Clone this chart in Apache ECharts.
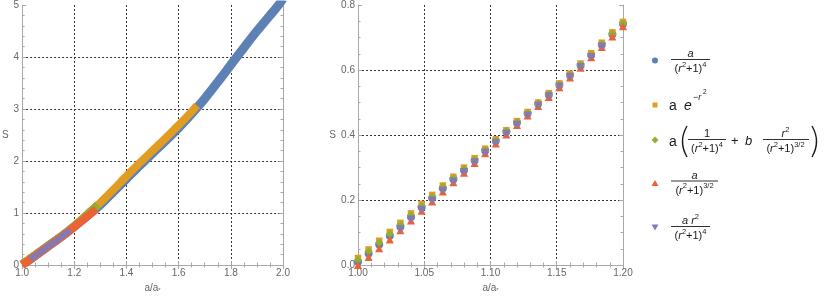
<!DOCTYPE html>
<html><head><meta charset="utf-8">
<script src="https://cdn.jsdelivr.net/npm/echarts@6/dist/echarts.min.js"></script>
<style>html,body{margin:0;padding:0;background:#fff}#c{width:830px;height:298px}</style>
</head><body><div id="c"></div>
<script>
// ---- data ----
const xZoom = [1.000,1.008,1.016,1.024,1.032,1.040,1.048,1.056,1.064,1.072,1.080,1.088,1.096,1.104,1.112,1.120,1.128,1.136,1.144,1.152,1.160,1.168,1.176,1.184,1.192,1.200];
const blueS   = [0.010,0.036,0.063,0.090,0.118,0.148,0.178,0.206,0.236,0.264,0.292,0.322,0.352,0.382,0.410,0.438,0.466,0.496,0.524,0.554,0.584,0.614,0.646,0.678,0.710,0.742];
const orangeS = [0.022,0.048,0.075,0.102,0.130,0.159,0.188,0.216,0.245,0.272,0.300,0.329,0.358,0.387,0.415,0.443,0.471,0.500,0.529,0.559,0.589,0.620,0.652,0.684,0.716,0.748];
const greenS  = [0.016,0.042,0.069,0.096,0.124,0.153,0.182,0.210,0.240,0.268,0.296,0.325,0.355,0.384,0.412,0.440,0.468,0.498,0.526,0.556,0.586,0.617,0.648,0.680,0.712,0.744];
const redS    = [0.000,0.025,0.052,0.079,0.107,0.137,0.167,0.196,0.226,0.255,0.284,0.314,0.344,0.374,0.402,0.431,0.460,0.489,0.517,0.547,0.577,0.607,0.639,0.671,0.703,0.735];
const purpleX = [1.032,1.040,1.048,1.056,1.064,1.072,1.080,1.088,1.096,1.104,1.112,1.120,1.128,1.136,1.144,1.152,1.160,1.168,1.176,1.184];
const purpleS = [0.110,0.140,0.170,0.199,0.229,0.257,0.286,0.316,0.346,0.376,0.404,0.432,0.460,0.490,0.519,0.549,0.579,0.609,0.640,0.672];
const blueWideX   = [1.25,1.30,1.35,1.40,1.45,1.50,1.55,1.60,1.65,1.70,1.75,1.80,1.85,1.90,1.95,1.98,2.00];
const blueWideS   = [0.95,1.16,1.41,1.66,1.91,2.15,2.39,2.64,2.91,3.20,3.52,3.85,4.18,4.50,4.80,4.98,5.12];
const orangeWideX = [1.25,1.30,1.35,1.40,1.45,1.50,1.55,1.60,1.65,1.67];
const orangeWideS = [0.98,1.20,1.45,1.71,1.96,2.20,2.44,2.69,2.95,3.07];
const greenWideX  = [1.25,1.29];
const greenWideS  = [0.97,1.16];
const redWideX    = [1.24,1.284];
const redWideS    = [0.895,1.075];
// tick labels
const leftXLabels  = ['1.0','1.2','1.4','1.6','1.8','2.0'];
const leftYLabels  = ['0','1','2','3','4','5'];
const rightXLabels = ['1.00','1.05','1.10','1.15','1.20'];
const rightYLabels = ['0.0','0.2','0.4','0.6','0.8'];
const names = ['s1','s2','s3','s4','s5'];

// ---- build ----
const pair = (xs, ys) => xs.map((x, i) => [x, ys[i]]);
const blueD   = pair(xZoom, blueS).concat(pair(blueWideX, blueWideS));
const orangeD = pair(xZoom, orangeS).concat(pair(orangeWideX, orangeWideS));
const greenD  = pair(xZoom, greenS).concat(pair(greenWideX, greenWideS));
const redD    = pair(xZoom, redS).concat(pair(redWideX, redWideS));
const purpleD = pair(purpleX, purpleS);

const COLORS = ['#5E81B5','#E19C24','#8FB032','#EB6235','#8778B3'];
const FONT = 'Liberation Sans, Arial, sans-serif';
const FRAME = '#a8a8a8';
const LABEL = '#666';
const INK = '#1a1a1a';

const chart = echarts.init(document.getElementById('c'), null, {renderer:'canvas'});

function mkX(gridIndex, min, max, interval, minorSplit, labels, primary, name) {
  return {
    type:'value', gridIndex, min, max, interval, position: primary ? 'bottom' : 'top',
    axisLine:{show:true, lineStyle:{color:FRAME, width:1}},
    axisTick:{show:true, inside:true, length:4, lineStyle:{color:FRAME}},
    minorTick:{show:true, splitNumber:minorSplit, length:2.5, lineStyle:{color:FRAME}},
    axisLabel:{show:primary, margin:3, color:LABEL, fontSize:10, fontFamily:FONT,
      formatter:(v)=>labels[Math.round((v-min)/interval)] },
    splitLine:{show:primary, showMinLine:false, showMaxLine:false, lineStyle:{color:'#333', type:[2,2], width:1}},
    name: primary ? name : '', nameLocation:'middle', nameGap:16,
    nameTextStyle:{color:LABEL, fontSize:10, fontFamily:FONT, rich:{n:{fontSize:10,color:LABEL,fontFamily:FONT}, s:{fontSize:6,color:LABEL,fontFamily:FONT,verticalAlign:'bottom',padding:[4,0,0,0]}}}
  };
}
function mkY(gridIndex, min, max, interval, minorSplit, labels, primary, nameGap) {
  return {
    type:'value', gridIndex, min, max, interval, position: primary ? 'left' : 'right',
    axisLine:{show:true, lineStyle:{color:FRAME, width:1}},
    axisTick:{show:true, inside:true, length:4, lineStyle:{color:FRAME}},
    minorTick:{show:true, splitNumber:minorSplit, length:2.5, lineStyle:{color:FRAME}},
    axisLabel:{show:primary, margin:3, color:LABEL, fontSize:10, fontFamily:FONT,
      formatter:(v)=>labels[Math.round((v-min)/interval)] },
    splitLine:{show:primary, showMinLine:false, showMaxLine:false, lineStyle:{color:'#333', type:[2,2], width:1}},
    name: primary ? 'S' : '', nameLocation:'middle', nameRotate:0, nameGap: nameGap,
    nameTextStyle:{color:LABEL, fontSize:10, fontFamily:FONT}
  };
}

const xName = '{n|a/a}{s|*}';
const symbols = ['circle','rect','diamond','triangle','triangle'];
const symSize = [8,6.5,8,8,8];
const symRot = [0,0,0,0,180];
const datas = [blueD, orangeD, greenD, redD, purpleD];
const lw = [9,8,8,8,6];

const series = [];
datas.forEach((d, i) => {
  series.push({ type:'line', name:names[i], xAxisIndex:0, yAxisIndex:0, data:d, showSymbol:false, symbol:'none', smooth:0.3, clip:true,
    lineStyle:{color:COLORS[i], width:lw[i]}, itemStyle:{color:COLORS[i]}, silent:true, animation:false, z:2+i });
});
datas.forEach((d, i) => {
  series.push({ type:'scatter', name:names[i], xAxisIndex:2, yAxisIndex:2, data:d, symbol:symbols[i], symbolSize:symSize[i],
    symbolRotate:symRot[i], clip:true, itemStyle:{color:COLORS[i], opacity:1}, silent:true, animation:false, z:2+i });
});

// ---- legend (formulas as real text) ----
const RICH = {
  n:{fontSize:11, fill:INK, fontFamily:FONT, lineHeight:14, verticalAlign:'bottom'},
  i:{fontSize:11, fill:INK, fontFamily:FONT, fontStyle:'italic', lineHeight:14, verticalAlign:'bottom'},
  s:{fontSize:7.5, fill:INK, fontFamily:FONT, lineHeight:14, verticalAlign:'top'}
};
const g = [];
function t(x, y, text, align) {
  g.push({type:'text', x, y, silent:true, style:{text, rich:RICH, align:align||'center', verticalAlign:'middle', fill:INK, font:'11px '+FONT}});
}
function bar(x1, x2, y) {
  g.push({type:'line', silent:true, shape:{x1, y1:y, x2, y2:y}, style:{stroke:INK, lineWidth:0.9}});
}
function plain(x, y, text, size, italic, align) {
  g.push({type:'text', x, y, silent:true, style:{text, fill:INK, align:align||'left', verticalAlign:'middle',
    font:(italic?'italic ':'')+size+'px '+FONT}});
}
function paren(xEnd, xMid, y1, y2) {
  g.push({type:'bezierCurve', silent:true, shape:{x1:xEnd, y1, x2:xEnd, y2, cpx1:xMid, cpy1:(y1+y2)/2},
    style:{stroke:INK, lineWidth:1.4, fill:'none'}});
}
const den4 = '{n|(}{i|r}{s|2}{n|+1)}{s|4}';
const den32 = '{n|(}{i|r}{s|2}{n|+1)}{s|3/2}';
// 1
t(690.5, 52.5, '{i|a}'); bar(671, 710, 59.5); t(690.5, 67.5, den4);
// 2
plain(669, 106, 'a', 14, false); plain(684, 106, 'e', 14, true); plain(693, 97, '−r', 9, true); plain(703, 92.5, '2', 6.5, false);
// 3
plain(669, 142, 'a', 14, false);
paren(687, 678, 126, 157);
t(707, 132.5, '{n|1}'); bar(688, 726, 139.5); t(707, 147.5, den4);
plain(731, 141, '+', 13, false); plain(745, 141, 'b', 13, true);
t(785.5, 132.5, '{i|r}{s|2}'); bar(763, 809, 139.5); t(785.5, 147.5, den32);
paren(812, 821, 126, 157);
// 4
t(694.5, 174.5, '{i|a}'); bar(671, 718, 181); t(694.5, 189, den32);
// 5
t(690.5, 219.5, '{i|a r}{s|2}'); bar(671, 710, 226.5); t(690.5, 234.5, den4);
// markers
const my = [60.5, 105, 140, 183.5, 227];
g.push({type:'circle', silent:true, shape:{cx:655, cy:my[0], r:3}, style:{fill:COLORS[0]}});
g.push({type:'rect', silent:true, shape:{x:652.5, y:my[1]-2.5, width:5, height:5}, style:{fill:COLORS[1]}});
g.push({type:'polygon', silent:true, shape:{points:[[655,my[2]-3.5],[658.5,my[2]],[655,my[2]+3.5],[651.5,my[2]]]}, style:{fill:COLORS[2]}});
g.push({type:'polygon', silent:true, shape:{points:[[655,my[3]-3.5],[658.5,my[3]+2.5],[651.5,my[3]+2.5]]}, style:{fill:COLORS[3]}});
g.push({type:'polygon', silent:true, shape:{points:[[655,my[4]+3.5],[658.5,my[4]-2.5],[651.5,my[4]-2.5]]}, style:{fill:COLORS[4]}});

chart.setOption({
  animation:false,
  backgroundColor:'#fff',
  grid:[
    {left:18, top:5, width:265, height:266, containLabel:false},
    {left:358, top:5, width:265, height:266, containLabel:false}
  ],
  xAxis:[
    mkX(0, 1.0, 2.0, 0.2, 4, leftXLabels, true, xName),
    mkX(0, 1.0, 2.0, 0.2, 4, leftXLabels, false, ''),
    mkX(1, 1.0, 1.2, 0.05, 5, rightXLabels, true, xName),
    mkX(1, 1.0, 1.2, 0.05, 5, rightXLabels, false, '')
  ],
  yAxis:[
    mkY(0, 0, 5, 1, 5, leftYLabels, true, 11),
    mkY(0, 0, 5, 1, 5, leftYLabels, false, 0),
    mkY(1, 0, 0.8, 0.2, 4, rightYLabels, true, 22),
    mkY(1, 0, 0.8, 0.2, 4, rightYLabels, false, 0)
  ],
  series,
  graphic: g
});
</script>
</body></html>
